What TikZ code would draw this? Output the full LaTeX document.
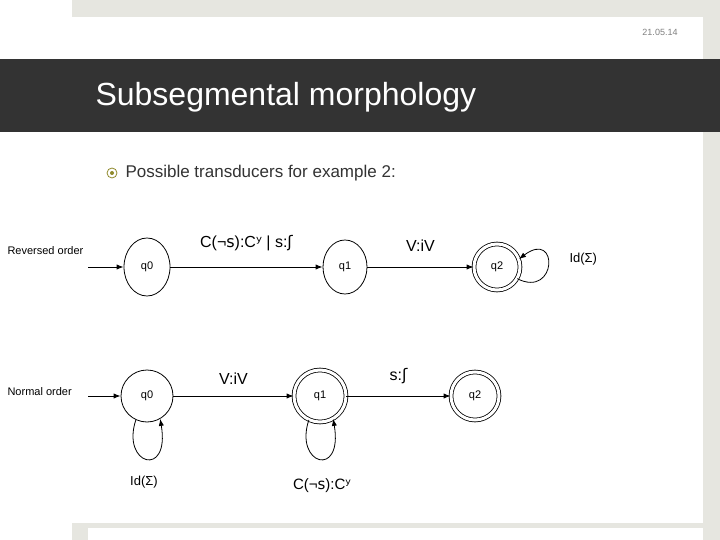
\documentclass[tikz,border=0pt]{standalone}
\usepackage{fontspec}
\setmainfont{Liberation Sans}
\newfontfamily\djv{DejaVu Sans}
\usetikzlibrary{arrows.meta,shapes.geometric}
\definecolor{hdr}{HTML}{333333}
\definecolor{lg}{HTML}{E6E6E0}
\begin{document}
\begin{tikzpicture}[x=1pt,y=-1pt,
  st/.style={draw,thick,ellipse,minimum width=#1,inner sep=0pt,font=\fontsize{11}{11}\selectfont},
  acc/.style={draw,thick,circle,double,double distance=3pt,minimum size=38pt,inner sep=0pt,font=\fontsize{11}{11}\selectfont},
  ed/.style={thick,-{Latex[length=7pt]}},
  lab/.style={font=\fontsize{16}{16}\selectfont},
  side/.style={font=\fontsize{11}{11}\selectfont,anchor=west}]
\useasboundingbox (0,0) rectangle (720,540);
\fill[white] (0,0) rectangle (720,540);
\fill[lg] (72,0) rectangle (720,17);
\fill[lg] (703,17) rectangle (720,540);
\fill[lg] (72,523) rectangle (720,540);
\fill[white] (88,528) rectangle (703,540);
\node[font=\fontsize{9}{9}\selectfont,text=gray] (date) at (660,32) {21.05.14};
\fill[hdr] (0,59) rectangle (720,132);
\node[anchor=west,text=white,font=\fontsize{32}{32}\selectfont] (title) at (92,97) {Subsegmental morphology};
\node[circle,draw=olive!70!gray,thick,minimum size=10pt,inner sep=0pt] (bul) at (112,173) {};
\fill[olive!70!gray] (bul) circle (2pt);
\node[anchor=west,font=\fontsize{17}{17}\selectfont,text=hdr] (intro) at (122,173) {Possible transducers for example 2:};
% top
\node[side] (ro) at (4,251) {Reversed order};
\node[st=46pt,minimum height=58pt] (a0) at (147,267) {q0};
\node[st=44pt,minimum height=54pt] (a1) at (345,267) {q1};
\node[acc,minimum size=46pt] (a2) at (497,267) {q2};
\coordinate (ain) at (88,267);
\draw[ed] (ain) -- (a0);
\draw[ed] (a0) -- node[lab,above=12pt] {C(¬{\djv s}):C{\djv ʸ} | s:{\djv ʃ}} (a1);
\draw[ed] (a1) -- node[lab,above=12pt] {V:iV} (a2);
\draw[ed] (a2.-30) .. controls +(40,20) and +(40,-30) .. (a2.20);
\node[lab,anchor=west,font=\fontsize{13}{13}\selectfont] (id1) at (566,259) {Id(Σ)};
% bottom
\node[side] (no) at (4,392) {Normal order};
\node[st=52pt,minimum height=52pt] (b0) at (147,396) {q0};
\node[acc,minimum size=52pt] (b1) at (320,396) {q1};
\node[acc,minimum size=48pt] (b2) at (475,396) {q2};
\coordinate (bin) at (88,396);
\draw[ed] (bin) -- (b0);
\draw[ed] (b0) -- node[lab,above=8pt] {V:iV} (b1);
\draw[ed] (b1) -- node[lab,above=8pt] {s:{\djv ʃ}} (b2);
\draw[ed] (b0.-115) .. controls +(-15,45) and +(10,60) .. (b0.-60);
\draw[ed] (b1.-115) .. controls +(-15,45) and +(10,60) .. (b1.-60);
\node[lab,font=\fontsize{13}{13}\selectfont] (id2) at (144,482) {Id(Σ)};
\node[lab,font=\fontsize{15}{15}\selectfont] (cl) at (322,486) {C(¬{\djv s}):C{\djv ʸ}};
\end{tikzpicture}
\end{document}
